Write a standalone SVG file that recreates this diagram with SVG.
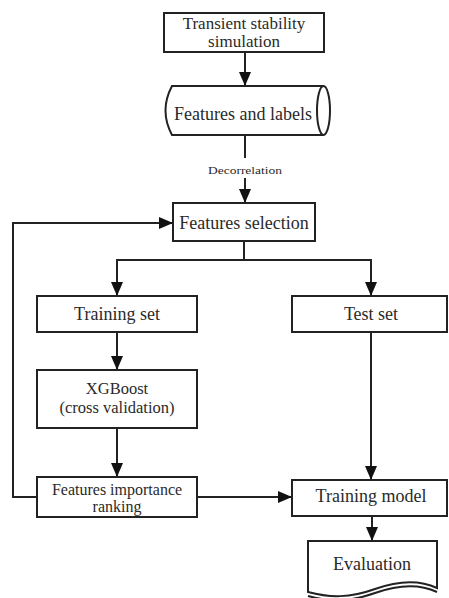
<svg xmlns="http://www.w3.org/2000/svg" width="449" height="598" viewBox="0 0 449 598">
<style>
.box{fill:#fff;stroke:#222;stroke-width:2}
.t{font-family:"Liberation Serif","Times New Roman",serif;font-size:18px;fill:#2a2a2a;text-anchor:middle}
.s{font-size:16.5px}
.m{font-size:17px}
.r{font-size:16px}
.c{fill:none;stroke:#222;stroke-width:2}
</style>
<defs>
<marker id="ah" markerUnits="userSpaceOnUse" markerWidth="14" markerHeight="12" refX="14" refY="6" orient="auto">
<path d="M0,0 L14,6 L0,12 Z" fill="#111"/>
</marker>
</defs>
<rect width="449" height="598" fill="#fff"/>
<g id="connectors">
<line class="c" x1="245" y1="52" x2="245" y2="86" marker-end="url(#ah)"/>
<line class="c" x1="245" y1="135" x2="245" y2="158"/>
<line class="c" x1="245" y1="178" x2="245" y2="203" marker-end="url(#ah)"/>
<polyline class="c" points="244,241 244,260 117,260 117,296" marker-end="url(#ah)"/>
<polyline class="c" points="244,260 371,260 371,296" marker-end="url(#ah)"/>
<line class="c" x1="117" y1="332" x2="117" y2="370" marker-end="url(#ah)"/>
<line class="c" x1="117" y1="428" x2="117" y2="477" marker-end="url(#ah)"/>
<line class="c" x1="371" y1="332" x2="371" y2="480" marker-end="url(#ah)"/>
<line class="c" x1="197" y1="497" x2="292" y2="497" marker-end="url(#ah)"/>
<polyline class="c" points="37,497 13,497 13,223 173,223" marker-end="url(#ah)"/>
<line class="c" x1="372" y1="516" x2="372" y2="541" marker-end="url(#ah)"/>
<text class="t" x="245" y="174" style="font-size:10px" textLength="74" lengthAdjust="spacingAndGlyphs">Decorrelation</text>
</g>
<g id="sim">
<rect class="box" x="164" y="13" width="160" height="39"/>
<text class="t m" x="244" y="29">Transient stability</text>
<text class="t m" x="244" y="47">simulation</text>
</g>
<g id="features">
<path class="box" d="M172,86 H323.5 A6.5,24.5 0 0 1 323.5,135 H172 Q159,110.5 172,86 Z"/>
<path class="c" d="M323.5,86 A6.5,24.5 0 0 0 323.5,135"/>
<text class="t" x="243" y="120">Features and labels</text>
</g>
<g id="selection">
<rect class="box" x="173" y="203" width="142" height="38"/>
<text class="t" x="244" y="229">Features selection</text>
</g>
<g id="training">
<rect class="box" x="37" y="296" width="160" height="36"/>
<text class="t" x="117" y="320">Training set</text>
</g>
<g id="test">
<rect class="box" x="292" y="296" width="155" height="36"/>
<text class="t" x="371" y="320">Test set</text>
</g>
<g id="xgboost">
<rect class="box" x="37" y="370" width="160" height="58"/>
<text class="t s" x="117" y="394">XGBoost</text>
<text class="t s" x="117" y="413">(cross validation)</text>
</g>
<g id="ranking">
<rect class="box" x="37" y="477" width="160" height="40"/>
<text class="t r" x="117" y="495">Features importance</text>
<text class="t r" x="117" y="512">ranking</text>
</g>
<g id="model">
<rect class="box" x="292" y="480" width="155" height="36"/>
<text class="t" x="371" y="502">Training model</text>
</g>
<g id="evaluation">
<path class="box" d="M308,541 H437 V588 C420,580 400,580 375,589 C350,598 330,598 308,592 Z"/>
<path class="c" d="M308,596 C330,602 350,602 375,593 C400,584 420,584 437,592"/>
<text class="t" x="372" y="570">Evaluation</text>
</g>
</svg>
